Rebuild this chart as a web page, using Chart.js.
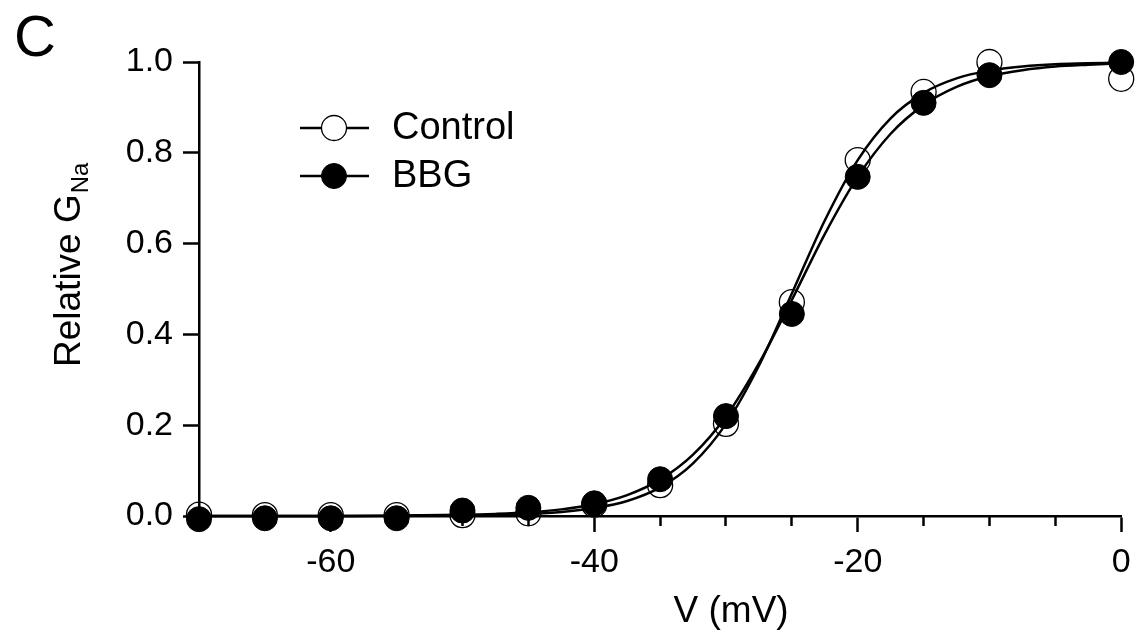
<!DOCTYPE html>
<html><head><meta charset="utf-8">
<style>html,body{margin:0;padding:0;background:#fff;overflow:hidden}</style>
<script src="https://cdn.jsdelivr.net/npm/chart.js@4.4.1/dist/chart.umd.min.js"></script>
</head><body>
<canvas id="c" width="1135" height="631" style="display:block;width:1135px;height:631px"></canvas>
<script>
// ---- data ----
const voltages = [-70, -65, -60, -55, -50, -45, -40, -35, -30, -25, -20, -15, -10, 0];
const controlValues = [0.003, 0.002, 0.002, 0.002, 0.002, 0.006, 0.025, 0.068, 0.203, 0.471, 0.784, 0.934, 1.0, 0.963];
const bbgValues = [-0.007, -0.005, -0.005, -0.005, 0.012, 0.018, 0.028, 0.081, 0.220, 0.445, 0.747, 0.910, 0.971, 1.0];

const fitVoltages = [-70, -65, -60, -55, -50, -47.5, -45, -42.5, -40, -37.5, -35, -32.5, -30, -27.5, -25, -22.5, -20, -17.5, -15, -12.5, -10, -7.5, -5, -2.5, 0];
const controlFit = [0, 0, 0.0001, 0.0003, 0.0012, 0.0024, 0.0047, 0.009, 0.0175, 0.033, 0.063, 0.116, 0.203, 0.331, 0.49, 0.651, 0.784, 0.876, 0.932, 0.964, 0.981, 0.99, 0.995, 0.997, 0.999];
const bbgFit = [0, 0.0001, 0.0002, 0.0008, 0.0025, 0.0046, 0.0081, 0.0146, 0.026, 0.046, 0.080, 0.135, 0.219, 0.336, 0.476, 0.621, 0.747, 0.842, 0.905, 0.945, 0.969, 0.982, 0.990, 0.994, 0.997];

const xMajorTicks = [-60, -40, -20, 0];
const xMinorTicks = [-65, -55, -50, -45, -35, -30, -25, -15, -10, -5];
const yTicks = [0, 0.2, 0.4, 0.6, 0.8, 1.0];

const seriesLabels = ['Control', 'BBG'];
const xTitle = 'V (mV)';
const yTitleMain = 'Relative G';
const yTitleSub = 'Na';
const panelLetter = 'C';

// ---- chart ----
const FONT = '"Liberation Sans", Arial, Helvetica, sans-serif';
const pts = (xs, ys) => xs.map((x, i) => ({x: x, y: ys[i]}));

const textPlugin = {
  id: 'textPlugin',
  afterDraw(chart) {
    const ctx = chart.ctx;
    const ca = chart.chartArea;
    ctx.save();
    ctx.fillStyle = '#000';
    // panel letter
    ctx.font = '58px ' + FONT;
    ctx.textAlign = 'left';
    ctx.textBaseline = 'alphabetic';
    ctx.fillText(panelLetter, 14, 56);
    // x title
    ctx.font = '37px ' + FONT;
    ctx.textAlign = 'center';
    ctx.fillText(xTitle, ca.left + (ca.right - ca.left) * 0.577, 622);
    // y title with subscript
    ctx.save();
    ctx.translate(80, 367);
    ctx.rotate(-Math.PI / 2);
    ctx.textAlign = 'left';
    ctx.font = '37px ' + FONT;
    ctx.fillText(yTitleMain, 0, 0);
    const w = ctx.measureText(yTitleMain).width;
    ctx.font = '24px ' + FONT;
    ctx.fillText(yTitleSub, w + 1, 8);
    ctx.restore();
    // legend
    const items = [chart.data.datasets[0], chart.data.datasets[1]];
    items.forEach((ds, i) => {
      const y = 128 + i * 48;
      ctx.strokeStyle = '#000';
      ctx.lineWidth = 2.5;
      ctx.beginPath();
      ctx.moveTo(300, y);
      ctx.lineTo(369, y);
      ctx.stroke();
      ctx.beginPath();
      ctx.arc(334, y, 12.5, 0, Math.PI * 2);
      ctx.fillStyle = ds.legendFill;
      ctx.fill();
      ctx.lineWidth = ds.pointBorderWidth;
      ctx.stroke();
      ctx.fillStyle = '#000';
      ctx.font = '38px ' + FONT;
      ctx.textAlign = 'left';
      ctx.textBaseline = 'middle';
      ctx.fillText(ds.label, 392, y + 1);
    });
    ctx.restore();
  }
};

new Chart(document.getElementById('c'), {
  type: 'scatter',
  data: {
    datasets: [
      {
        label: seriesLabels[0],
        data: pts(voltages, controlValues),
        showLine: false,
        pointRadius: 12.5,
        pointBackgroundColor: 'rgba(0,0,0,0)',
        pointBorderColor: '#000',
        pointBorderWidth: 1.3,
        legendFill: '#fff',
        clip: false,
        order: 3
      },
      {
        label: seriesLabels[1],
        data: pts(voltages, bbgValues),
        showLine: false,
        pointRadius: 12.5,
        pointBackgroundColor: '#000',
        pointBorderColor: '#000',
        pointBorderWidth: 1,
        legendFill: '#000',
        clip: false,
        order: 0
      },
      {
        label: 'Control fit',
        data: pts(fitVoltages, controlFit),
        showLine: true,
        pointRadius: 0,
        borderColor: '#000',
        borderWidth: 2.5,
        cubicInterpolationMode: 'monotone',
        clip: false,
        order: 2
      },
      {
        label: 'BBG fit',
        data: pts(fitVoltages, bbgFit),
        showLine: true,
        pointRadius: 0,
        borderColor: '#000',
        borderWidth: 2.5,
        cubicInterpolationMode: 'monotone',
        clip: false,
        order: 1
      }
    ]
  },
  options: {
    responsive: false,
    animation: false,
    devicePixelRatio: 1,
    events: [],
    layout: {padding: {top: 62, right: 12, left: 0, bottom: 0}},
    plugins: {legend: {display: false}, tooltip: {enabled: false}},
    scales: {
      x: {
        type: 'linear', position: 'bottom', min: -70, max: 0, weight: 1,
        afterBuildTicks: s => { s.ticks = xMajorTicks.map(v => ({value: v})); },
        afterFit: s => { s.height = 115; s.paddingLeft = 0; s.paddingRight = 0; },
        grid: {drawOnChartArea: false, drawTicks: true, tickLength: 16, tickWidth: 2.5, tickColor: '#000'},
        border: {display: true, color: '#000', width: 2.5},
        ticks: {font: {size: 34, family: FONT}, color: '#000', padding: 10, maxRotation: 0, autoSkip: false,
                callback: v => String(v)}
      },
      xMinor: {
        type: 'linear', position: 'bottom', axis: 'x', min: -70, max: 0, weight: 0,
        afterBuildTicks: s => { s.ticks = xMinorTicks.map(v => ({value: v})); },
        afterFit: s => { s.height = 0; s.paddingLeft = 0; s.paddingRight = 0; },
        grid: {drawOnChartArea: false, drawTicks: true, tickLength: 10, tickWidth: 2.5, tickColor: '#000'},
        border: {display: false},
        ticks: {display: false}
      },
      y: {
        type: 'linear', position: 'left', min: 0, max: 1,
        afterBuildTicks: s => { s.ticks = yTicks.map(v => ({value: v})); },
        afterFit: s => { s.width = 199; s.paddingTop = 0; s.paddingBottom = 0; },
        grid: {drawOnChartArea: false, drawTicks: true, tickLength: 16, tickWidth: 2.5, tickColor: '#000'},
        border: {display: true, color: '#000', width: 2.5},
        ticks: {font: {size: 34, family: FONT}, color: '#000', padding: 10, autoSkip: false,
                callback: v => Number(v).toFixed(1)}
      }
    }
  },
  plugins: [textPlugin]
});
</script>
</body></html>
